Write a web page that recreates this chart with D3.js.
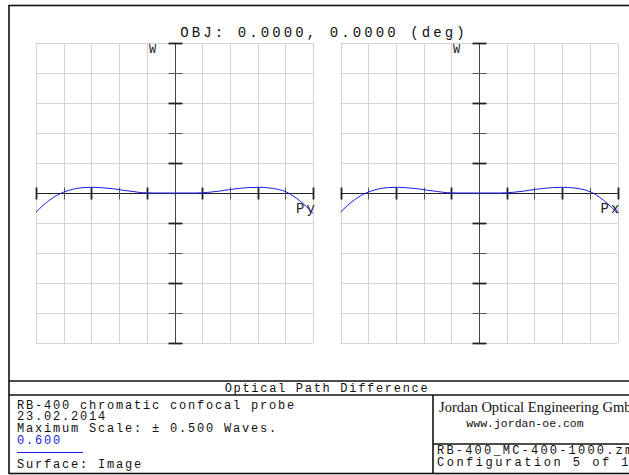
<!DOCTYPE html>
<html>
<head>
<meta charset="utf-8">
<script src="https://cdn.jsdelivr.net/npm/d3@7"></script>
<style>
  html, body { margin: 0; padding: 0; background: #fff; }
  svg { display: block; }
</style>
</head>
<body>
<svg id="chart" width="629" height="475"></svg>
<script>
// ---------- data ----------
const titleText = "OBJ: 0.0000, 0.0000 (deg)";
const pupil = [-1.0, -0.95, -0.9, -0.85, -0.8, -0.73, -0.66, -0.59, -0.51, -0.44, -0.37, -0.30, -0.23, -0.15, 0,
               0.15, 0.24, 0.32, 0.39, 0.46, 0.53, 0.61, 0.68, 0.75, 0.81, 0.87, 0.93, 1.0];
const opdPy = [-0.064, -0.042, -0.023, -0.008, 0.003, 0.013, 0.018, 0.019, 0.017, 0.014, 0.009, 0.005, 0.001, 0, 0,
               0, 0.002, 0.006, 0.011, 0.015, 0.018, 0.019, 0.017, 0.012, 0.003, -0.014, -0.036, -0.068];
const opdPx = [-0.064, -0.042, -0.023, -0.008, 0.003, 0.013, 0.018, 0.019, 0.017, 0.014, 0.009, 0.005, 0.001, 0, 0,
               0, 0.002, 0.006, 0.011, 0.015, 0.018, 0.019, 0.017, 0.012, 0.003, -0.014, -0.036, -0.068];
const xTicks = [-1, -0.8, -0.6, -0.4, -0.2, 0, 0.2, 0.4, 0.6, 0.8, 1];
const yTicks = [-0.5, -0.4, -0.3, -0.2, -0.1, 0, 0.1, 0.2, 0.3, 0.4, 0.5];
const panels = [
  { name: "Py", values: opdPy },
  { name: "Px", values: opdPx }
];
const infoLeft = ["RB-400 chromatic confocal probe", "23.02.2014", "Maximum Scale: \u00b1 0.500 Waves."];
const legendValue = "0.600";
const surfaceText = "Surface: Image";
const footerTitle = "Optical Path Difference";
const company = "Jordan Optical Engineering GmbH";
const website = "www.jordan-oe.com";
const fileName = "RB-400_MC-400-1000.zmx";
const configText = "Configuration 5 of 10";

// ---------- layout ----------
const svg = d3.select("#chart");
const mono = "'Liberation Mono', 'DejaVu Sans Mono', monospace";
const blue = "#1a1ae6";
const panelLeft = [36, 340.5];
const panelW = 277, plotTop = 43, plotBottom = 343;

const y = d3.scaleLinear().domain([-0.5, 0.5]).range([plotBottom, plotTop]);

// title
svg.append("text").attr("x", 324).attr("y", 37).attr("text-anchor", "middle")
  .attr("font-family", mono).attr("font-size", 14).attr("letter-spacing", 3.1)
  .attr("fill", "#111").text(titleText);

panels.forEach((p, i) => {
  const x = d3.scaleLinear().domain([-1, 1]).range([panelLeft[i], panelLeft[i] + panelW]);
  const g = svg.append("g");
  const x0 = Math.round(x(0)) + 0.5, y0 = Math.round(y(0)) + 0.5;

  // grid
  g.selectAll(".vg").data(xTicks).join("line")
    .attr("x1", d => Math.round(x(d)) + 0.5).attr("x2", d => Math.round(x(d)) + 0.5)
    .attr("y1", plotTop).attr("y2", plotBottom).attr("stroke", "#d4d4d4").attr("stroke-width", 1);
  g.selectAll(".hg").data(yTicks).join("line")
    .attr("y1", d => Math.round(y(d)) + 0.5).attr("y2", d => Math.round(y(d)) + 0.5)
    .attr("x1", x(-1)).attr("x2", x(1)).attr("stroke", "#d4d4d4").attr("stroke-width", 1);

  // axes
  g.append("line").attr("x1", x0).attr("x2", x0).attr("y1", plotTop).attr("y2", plotBottom)
    .attr("stroke", "#444").attr("stroke-width", 1);
  g.append("line").attr("x1", x(-1)).attr("x2", x(1)).attr("y1", y0).attr("y2", y0)
    .attr("stroke", "#222").attr("stroke-width", 1);

  // y ticks (odd tenths heavier)
  g.selectAll(".yt").data(yTicks.filter(d => d !== 0)).join("line")
    .attr("x1", x0 - 7).attr("x2", x0 + 7)
    .attr("y1", d => Math.round(y(d)) + 0.5).attr("y2", d => Math.round(y(d)) + 0.5)
    .attr("stroke", d => (Math.round(Math.abs(d) * 10) % 2 === 1) ? "#222" : "#555")
    .attr("stroke-width", d => (Math.round(Math.abs(d) * 10) % 2 === 1) ? 1.8 : 1);
  // x ticks
  g.selectAll(".xt").data(xTicks.filter(d => d !== 0)).join("line")
    .attr("x1", d => Math.round(x(d)) + 0.5).attr("x2", d => Math.round(x(d)) + 0.5)
    .attr("y1", y0 - 6).attr("y2", y0 + 6)
    .attr("stroke", d => (Math.round(Math.abs(d) * 10) % 4 === 2) ? "#222" : "#555")
    .attr("stroke-width", d => (Math.round(Math.abs(d) * 10) % 4 === 2) ? 1.8 : 1);

  // labels
  g.append("text").attr("x", x0 - 23).attr("y", 53).attr("text-anchor", "middle")
    .attr("font-family", mono).attr("font-size", 12).attr("fill", "#222").text("W");
  g.append("text").attr("x", x(1) - 17).attr("y", 213)
    .attr("font-family", mono).attr("font-size", 14).attr("letter-spacing", 2)
    .attr("fill", "#222").text(p.name);

  // curve
  const line = d3.line().x((d, k) => x(pupil[k])).y(d => y(d)).curve(d3.curveMonotoneX);
  g.append("path").datum(p.values).attr("d", line)
    .attr("fill", "none").attr("stroke", blue).attr("stroke-width", 1);
});

// frame and info box
const frame = svg.append("g").attr("stroke", "#111").attr("fill", "none");
frame.append("rect").attr("x", 9).attr("y", 5.5).attr("width", 640).attr("height", 468).attr("stroke-width", 1.6);
frame.append("line").attr("x1", 9).attr("x2", 649).attr("y1", 381).attr("y2", 381).attr("stroke-width", 1.6);
frame.append("line").attr("x1", 9).attr("x2", 649).attr("y1", 395).attr("y2", 395).attr("stroke-width", 1.6);
frame.append("line").attr("x1", 433).attr("x2", 433).attr("y1", 395).attr("y2", 473.5).attr("stroke-width", 1.6);
frame.append("line").attr("x1", 433).attr("x2", 649).attr("y1", 444).attr("y2", 444).attr("stroke-width", 1.6);

const tx = svg.append("g").attr("font-family", mono).attr("font-size", 12).attr("fill", "#111");
tx.append("text").attr("x", 327).attr("y", 392).attr("text-anchor", "middle").attr("letter-spacing", 1.7).text(footerTitle);
const leftBase = [409, 420, 432];
infoLeft.forEach((t, k) => tx.append("text").attr("x", 17).attr("y", leftBase[k]).attr("letter-spacing", 1.8).text(t));
tx.append("text").attr("x", 17).attr("y", 444).attr("letter-spacing", 1.8).attr("fill", blue).text(legendValue);
svg.append("line").attr("x1", 17).attr("x2", 83).attr("y1", 452.5).attr("y2", 452.5).attr("stroke", blue).attr("stroke-width", 1);
tx.append("text").attr("x", 17).attr("y", 468).attr("letter-spacing", 1.8).text(surfaceText);

svg.append("text").attr("x", 439).attr("y", 412).attr("font-family", "'Liberation Serif', serif")
  .attr("font-size", 15).attr("textLength", 203).attr("lengthAdjust", "spacingAndGlyphs")
  .attr("fill", "#111").text(company);
tx.append("text").attr("x", 525).attr("y", 427).attr("text-anchor", "middle").attr("font-size", 11.5).text(website);
tx.append("text").attr("x", 437).attr("y", 454).attr("letter-spacing", 2.2).text(fileName);
tx.append("text").attr("x", 437).attr("y", 466).attr("letter-spacing", 2.5).text(configText);
</script>
</body>
</html>
